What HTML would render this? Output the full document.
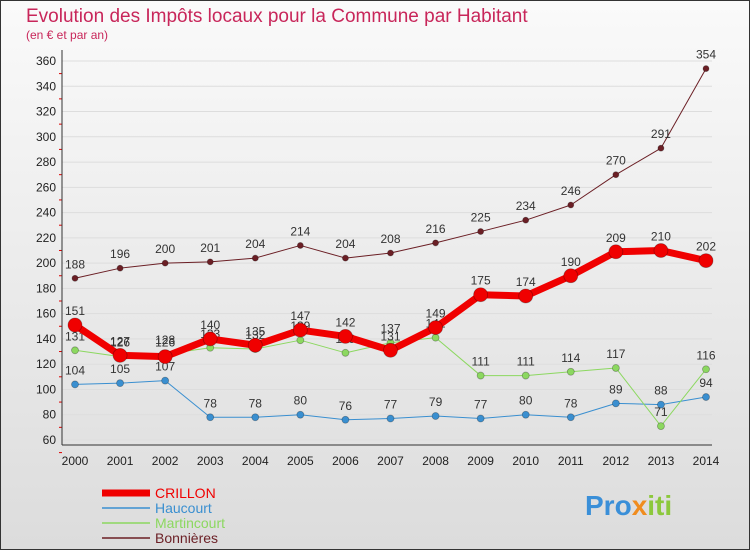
<!DOCTYPE html>
<html><head><meta charset="utf-8"><style>
body{margin:0;width:750px;height:550px;overflow:hidden;font-family:"Liberation Sans",sans-serif}
#c{position:absolute;left:0;top:0;width:748px;height:548px;border:1px solid #333;background:linear-gradient(#fafafa,#dcdcdc)}
</style></head><body>
<div id="c"></div>
<svg id="s" width="750" height="550" style="position:absolute;left:0;top:0">
<text x="26" y="22" font-size="19" fill="#c8265a">Evolution des Impôts locaux pour la Commune par Habitant</text>
<text x="26" y="39" font-size="12" fill="#c8265a">(en € et par an)</text>
<g id="g"></g>
<text x="585" y="515" font-size="28" font-weight="bold" fill="#3a8fd8">Pro<tspan fill="#f08c1e">x</tspan><tspan fill="#8cc83c">iti</tspan></text>
</svg>
<script>
const years=[2000,2001,2002,2003,2004,2005,2006,2007,2008,2009,2010,2011,2012,2013,2014];
const yTicks=[60,80,100,120,140,160,180,200,220,240,260,280,300,320,340,360];
const crillon=[151,127,126,140,135,147,142,131,149,175,174,190,209,210,202];
const haucourt=[104,105,107,78,78,80,76,77,79,77,80,78,89,88,94];
const martincourt=[131,126,128,133,132,139,129,137,141,111,111,114,117,71,116];
const bonnieres=[188,196,200,201,204,214,204,208,216,225,234,246,270,291,354];
const NS="http://www.w3.org/2000/svg",g=document.getElementById('g');
const X=i=>75+i*(631/14), Y=v=>440-(v-60)*379/300;
function el(t,a,p){const e=document.createElementNS(NS,t);for(const k in a)e.setAttribute(k,a[k]);(p||g).appendChild(e);return e;}
yTicks.forEach(v=>{
 const l=el('line',{x1:62,x2:712,y1:Y(v),y2:Y(v),stroke:'#ddd','stroke-width':1});
 
 
 const t=el('text',{x:56,y:Y(v)+4,'font-size':12,'text-anchor':'end',fill:'#222'});t.textContent=v;
 
 
 const tk=el('line',{x1:59,x2:62,y1:Y(v)+12.6,y2:Y(v)+12.6,stroke:'#d00'});
 
 
});
const ax=el('line',{x1:62,x2:62,y1:50,y2:445,stroke:'#333'});


const bx=el('line',{x1:62,x2:712,y1:445,y2:445,stroke:'#333'});


years.forEach((y,i)=>{
 const t=el('text',{x:X(i),y:465,'font-size':12,'text-anchor':'middle',fill:'#222'});t.textContent=y;
 
 
});
function series(d,col,w,r,name,labOff){
 const p=el('polyline',{points:d.map((v,i)=>X(i)+','+Y(v)).join(' '),fill:'none',stroke:col,'stroke-width':w,'stroke-linejoin':'round'});
 
 
 d.forEach((v,i)=>{
  const c=el('circle',{cx:X(i),cy:Y(v),r:r,fill:col,stroke:'rgba(0,0,0,0.3)','stroke-width':0.8});
  
  
  const t=el('text',{x:X(i),y:Y(v)+labOff,'font-size':12,'text-anchor':'middle',fill:'#333'});t.textContent=v;
  
  
 });
}
series(bonnieres,'#6b1f25',1,3,'bonnieres',-10);
series(haucourt,'#3a8fd0',1,3.5,'haucourt',-10);
series(martincourt,'#8cd860',1,3.5,'martincourt',-10);
series(crillon,'#f00000',7,7,'crillon',-10);
const leg=[['CRILLON','#f00000',7],['Haucourt','#3a8fd0',1.5],['Martincourt','#8cd860',1.5],['Bonnières','#6b1f25',1.5]];
leg.forEach((l,i)=>{
 const y=493+i*15;
 const ln=el('line',{x1:102,x2:150,y1:y,y2:y,stroke:l[1],'stroke-width':l[2]});
 
 
 const t=el('text',{x:155,y:y+5,'font-size':14,fill:l[1]});t.textContent=l[0];
 
 
});
</script>
</body></html>
